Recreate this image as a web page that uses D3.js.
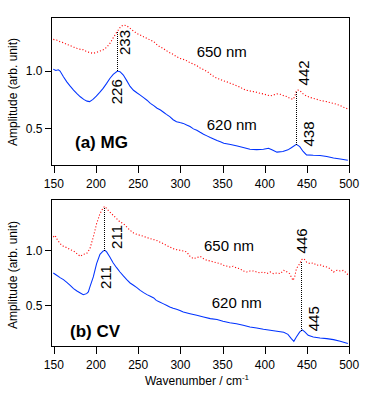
<!DOCTYPE html>
<html><head><meta charset="utf-8">
<script src="https://cdn.jsdelivr.net/npm/d3@7"></script>
<style>
html,body{margin:0;padding:0;background:#fff;}
svg{display:block;}
text{font-family:"Liberation Sans",Arial,sans-serif;fill:#000;}
</style></head>
<body>
<svg id="chart" width="378" height="394"></svg>
<script>
// ---------- data ----------
const xTicks = [150,200,250,300,350,400,450,500];
const yTicks = [0.5,1.0];

// (a) MG, 620 nm
const mg620Wn  = [150,153,156,158,162,166,170,174,178,182,186,190,193,197,201,205,209,213,217,221,226,229,233,237,241,245,249,253,257,261,265,269,273,277,281,284,288,292,296,300,304,308,312,316,320,324,328,332,336,340,344,348,352,360,368,375,383,391,399,405,409,415,422,428,432,438,442,446,450,458,466,474,482,490,499];
const mg620Amp = [1.015,1.005,1.01,1.0,0.95,0.905,0.868,0.834,0.803,0.775,0.752,0.737,0.733,0.752,0.78,0.813,0.848,0.89,0.935,0.97,1.0,0.994,0.965,0.916,0.865,0.832,0.81,0.79,0.768,0.745,0.718,0.698,0.675,0.66,0.638,0.622,0.602,0.575,0.558,0.55,0.543,0.528,0.515,0.495,0.483,0.465,0.448,0.434,0.42,0.407,0.393,0.382,0.37,0.358,0.345,0.332,0.318,0.314,0.318,0.326,0.312,0.292,0.297,0.312,0.33,0.36,0.34,0.298,0.268,0.264,0.262,0.253,0.241,0.233,0.221];

// (a) MG, 650 nm
const mg650Wn  = [150,154,158,162,166,170,174,178,182,185.5,189.5,193.4,197.4,201.3,205.3,209.2,213.2,217.1,221.1,225,227,229.8,233,237,241,245,249,253,257,261,265,269,272,276,280,284,288,292,296,300,304,308,312,316,320,324,328,332,336,340,344,348,351,355,359,363,367,371,375,379,383,387,391,395,399,403,407,411,415,419,423,427,430,434,436,438,440,442,446,450,454,458,462,466,470,474,478,482,486,490,494,499];
const mg650Amp = [1.276,1.27,1.256,1.247,1.233,1.221,1.209,1.198,1.189,1.186,1.169,1.16,1.154,1.163,1.174,1.186,1.206,1.241,1.291,1.337,1.358,1.387,1.401,1.395,1.372,1.349,1.328,1.314,1.299,1.285,1.27,1.256,1.235,1.212,1.198,1.177,1.16,1.145,1.125,1.11,1.102,1.09,1.073,1.061,1.047,1.026,1.012,0.997,0.974,0.953,0.936,0.927,0.916,0.907,0.895,0.884,0.872,0.86,0.843,0.831,0.826,0.82,0.814,0.805,0.8,0.791,0.782,0.791,0.8,0.797,0.785,0.776,0.762,0.753,0.776,0.826,0.834,0.83,0.8,0.782,0.77,0.762,0.753,0.744,0.738,0.733,0.724,0.718,0.709,0.698,0.683,0.669];

// (b) CV, 620 nm
const cv620Wn  = [150,154,158,162,166,170,174,178,182,185.5,189.5,191.5,193.4,197.4,201.3,205.3,209.2,211.2,213.2,217,221,225,229,233,237,241,245,249,253,257,261,265,269,272,276,280,284,288,292,296,300,304,312,320,328,336,344,351,359,367,375,383,391,399,407,415,423,428,432,435,438,442,445,448,452,458,466,474,482,490,499];
const cv620Amp = [0.794,0.773,0.752,0.733,0.709,0.682,0.652,0.63,0.612,0.597,0.606,0.621,0.667,0.758,0.879,0.964,0.994,1.0,0.985,0.939,0.885,0.842,0.803,0.767,0.733,0.703,0.682,0.661,0.636,0.615,0.597,0.582,0.567,0.545,0.53,0.515,0.5,0.485,0.473,0.464,0.452,0.439,0.424,0.409,0.394,0.379,0.37,0.355,0.342,0.333,0.318,0.303,0.294,0.282,0.273,0.264,0.255,0.236,0.197,0.173,0.212,0.258,0.276,0.258,0.227,0.212,0.203,0.197,0.188,0.173,0.152];

// (b) CV, 650 nm
const cv650Wn  = [150,152,154,158,162,166,170,174,178,182,185.5,189.5,193.4,197.4,201.3,205.3,209.2,211.2,213.2,217,221,225,229,233,237,241,245,249,253,257,261,265,269,272,276,280,284,288,292,296,300,304,308,312,316,320,324,328,332,336,340,344,348,351,355,359,363,367,371,375,379,383,387,391,395,399,403,407,411,415,419,423,427,430,432,434,436,438,442,444,447,450,454,458,462,466,470,474,478,482,486,490,494,499];
const cv650Amp = [1.121,1.136,1.106,1.061,1.036,1.024,1.006,0.994,0.97,0.945,0.964,0.97,1.015,1.121,1.242,1.333,1.388,1.4,1.379,1.348,1.318,1.288,1.258,1.242,1.212,1.182,1.158,1.145,1.136,1.127,1.115,1.106,1.097,1.091,1.076,1.061,1.045,1.03,1.015,1.006,1.0,0.994,0.985,0.945,0.924,0.933,0.945,0.924,0.909,0.903,0.894,0.885,0.879,0.864,0.858,0.848,0.855,0.839,0.833,0.812,0.803,0.812,0.812,0.803,0.794,0.803,0.788,0.803,0.788,0.794,0.788,0.818,0.803,0.788,0.758,0.727,0.758,0.833,0.879,0.915,0.924,0.894,0.879,0.885,0.864,0.87,0.855,0.848,0.833,0.803,0.818,0.812,0.818,0.779];

// peak markers (wavenumber where the dotted connector is drawn)
const mgPeaks = [226, 437.5];
const cvPeaks = [210, 443.4];

// ---------- layout ----------
const svg = d3.select("#chart");
const xRange = [53.3, 348.7];
const frameL = 51.5, frameR = 349.5;
const panels = [
  {top:17.5, bottom:165.5, y10:71, y05:128.3,
   blue:[mg620Wn,mg620Amp], red:[mg650Wn,mg650Amp], peaks:mgPeaks,
   labels:[
     {t:"233", wn:235.0, a:1.249, rot:true},
     {t:"226", wn:225.1, a:0.819, rot:true},
     {t:"442", wn:446.2, a:0.983, rot:true},
     {t:"438", wn:452.1, a:0.450, rot:true},
     {t:"650 nm", wn:319.9, a:1.119},
     {t:"620 nm", wn:331.8, a:0.485},
     {t:"(a) MG", wn:175.7, a:0.326, bold:true}
   ], yLabelY:92},
  {top:199.5, bottom:346.5, y10:250.3, y05:305.3,
   blue:[cv620Wn,cv620Amp], red:[cv650Wn,cv650Amp], peaks:cvPeaks,
   labels:[
     {t:"211", wn:225.1, a:1.121, rot:true},
     {t:"211", wn:212.4, a:0.757, rot:true},
     {t:"446", wn:444.3, a:1.085, rot:true},
     {t:"445", wn:458.1, a:0.378, rot:true},
     {t:"650 nm", wn:328.6, a:0.994},
     {t:"620 nm", wn:337.7, a:0.475},
     {t:"(b) CV", wn:169.8, a:0.212, bold:true}
   ], yLabelY:275}
];

const x = d3.scaleLinear().domain([150,500]).range(xRange);

function interp(wn, amp, v){
  const i = d3.bisectLeft(wn, v);
  if (i<=0) return amp[0];
  if (i>=wn.length) return amp[amp.length-1];
  const t = (v-wn[i-1])/(wn[i]-wn[i-1]);
  return amp[i-1] + t*(amp[i]-amp[i-1]);
}

panels.forEach(p => {
  const y = d3.scaleLinear().domain([0.5,1.0]).range([p.y05,p.y10]);
  const g = svg.append("g");

  const line = d3.line().x(d=>x(d[0])).y(d=>y(d[1]));
  const blueData = p.blue[0].map((w,i)=>[w,p.blue[1][i]]);
  const redData  = p.red[0].map((w,i)=>[w,p.red[1][i]]);

  g.append("path").datum(redData).attr("d",line)
    .attr("fill","none").attr("stroke","#ff0000").attr("stroke-width",1.1)
    .attr("stroke-dasharray","1.1,2");
  g.append("path").datum(blueData).attr("d",line)
    .attr("fill","none").attr("stroke","#0033ff").attr("stroke-width",1.05);

  // dotted connectors
  p.peaks.forEach(w => {
    const a0 = interp(p.blue[0],p.blue[1],w);
    const a1 = interp(p.red[0],p.red[1],w);
    g.append("line")
      .attr("x1",Math.round(x(w))+0.5).attr("x2",Math.round(x(w))+0.5)
      .attr("y1",Math.round(y(a0))).attr("y2",Math.round(y(a1)))
      .attr("stroke","#000").attr("stroke-width",1)
      .attr("stroke-dasharray","1,1").attr("shape-rendering","crispEdges");
  });

  // labels
  p.labels.forEach(l => {
    const tx = x(l.wn), ty = y(l.a);
    const t = g.append("text").text(l.t)
      .attr("font-size", l.bold ? 17 : 15)
      .attr("font-weight", l.bold ? "bold" : "normal");
    if (l.rot) {
      t.attr("transform",`translate(${tx},${ty}) rotate(-90)`)
       .attr("text-anchor","middle").attr("dy","0.36em");
    } else {
      t.attr("x",tx).attr("y",ty);
    }
  });

  // frame
  g.append("rect").attr("x",frameL).attr("y",p.top)
    .attr("width",frameR-frameL).attr("height",p.bottom-p.top)
    .attr("fill","none").attr("stroke","#000").attr("stroke-width",1)
    .attr("shape-rendering","crispEdges");

  // axes
  const xa = g.append("g").attr("transform",`translate(0,${p.bottom})`)
    .call(d3.axisBottom(x).tickValues(xTicks).tickSize(7).tickPadding(7).tickSizeOuter(0));
  xa.select(".domain").remove();
  xa.selectAll("line").attr("shape-rendering","crispEdges")
    .attr("transform","translate(0.5,0)");
  xa.selectAll("text").attr("font-size",12).attr("font-family","Liberation Sans, Arial, sans-serif");

  const ya = g.append("g").attr("transform",`translate(${frameL},0)`)
    .call(d3.axisLeft(y).tickValues(yTicks).tickFormat(d3.format(".1f")).tickSize(7).tickPadding(2).tickSizeOuter(0));
  ya.select(".domain").remove();
  ya.selectAll("line").attr("shape-rendering","crispEdges");
  ya.selectAll("text").attr("font-size",12).attr("font-family","Liberation Sans, Arial, sans-serif");

  g.append("text").text("Amplitude (arb. unit)")
    .attr("font-size",12).attr("text-anchor","middle").attr("dy","0.35em")
    .attr("transform",`translate(12.5,${p.yLabelY}) rotate(-90)`);
});

// x axis title
const xt = svg.append("text").attr("x",197).attr("y",385)
  .attr("text-anchor","middle").attr("font-size",12);
xt.append("tspan").text("Wavenumber / cm");
xt.append("tspan").text("-1").attr("font-size",8).attr("dy",-5);
</script>
</body></html>
